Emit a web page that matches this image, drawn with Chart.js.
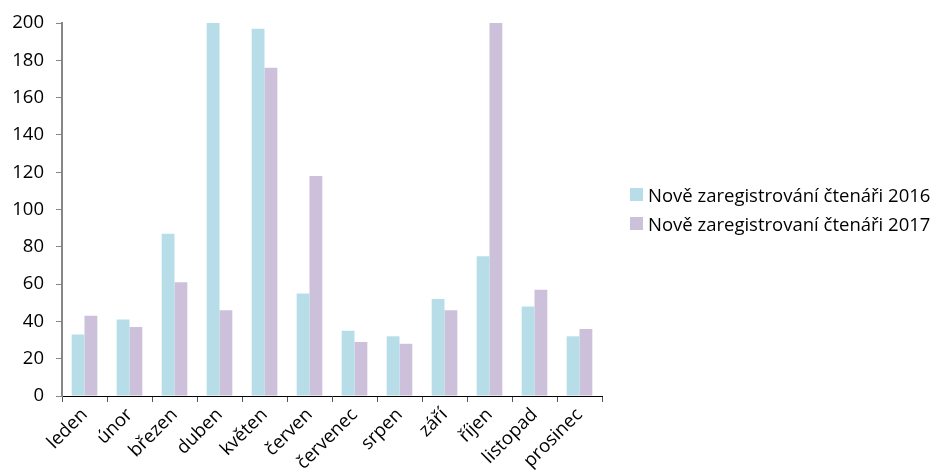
<!DOCTYPE html>
<html><head><meta charset="utf-8">
<script src="https://cdn.jsdelivr.net/npm/chart.js@4.4.0/dist/chart.umd.min.js"></script>
<style>
html,body{margin:0;padding:0;background:#fff}
#wrap{position:relative;width:933px;height:475px}
#legend{position:absolute;left:630px;top:180px;font-family:'Open Sans',sans-serif;font-size:18.5px;color:#000;line-height:29px}
#legend div{white-space:nowrap;display:flex;align-items:center}
#legend span.b{display:inline-block;width:13px;height:13px;margin-right:5px}
</style>
</head><body><div id="wrap"><canvas id="c"></canvas><div id="legend"></div></div>
<script>
const categories = ["leden","únor","březen","duben","květen","červen","červenec","srpen","září","říjen","listopad","prosinec"];
const series2016 = [33,41,87,200,197,55,35,32,52,75,48,32];
const series2017 = [43,37,61,46,176,118,29,28,46,200,57,36];
const seriesNames = ["Nově zaregistrování čtenáři 2016","Nově zaregistrovaní čtenáři 2017"];
const seriesColors = ['#b7dde8','#ccc0da'];
const yTicks = {min:0,max:200,step:20};

Chart.defaults.font.family = "'Open Sans', sans-serif";
Chart.defaults.font.size = 18.5;
Chart.defaults.color = "#000";
const chart = new Chart(document.getElementById('c'), {
  type:'bar',
  data:{labels:categories,datasets:[
    {label:seriesNames[0],data:series2016,backgroundColor:seriesColors[0],barPercentage:1,categoryPercentage:0.57},
    {label:seriesNames[1],data:series2017,backgroundColor:seriesColors[1],barPercentage:1,categoryPercentage:0.57}
  ]},
  options:{
    responsive:true,maintainAspectRatio:false,animation:false,
    layout:{padding:{top:23,left:0,right:331,bottom:0}},
    plugins:{legend:{display:false},tooltip:{enabled:false}},
    scales:{
      x:{grid:{display:true,drawOnChartArea:false,drawTicks:true,tickLength:6,color:'#555',offset:true},
         border:{color:'#000'},
         afterFit:(s)=>{s.height=79;},
         ticks:{maxRotation:45,minRotation:45,padding:2,font:{size:18.5}}},
      y:{min:yTicks.min,max:yTicks.max,
         grid:{display:true,drawOnChartArea:false,drawTicks:true,tickLength:6,color:'#868686'},
         border:{color:'#868686',width:2},
         afterFit:(s)=>{s.width=62;},
         ticks:{stepSize:yTicks.step,padding:12,font:{size:18.5}}}
    }
  }
});
const lg=document.getElementById('legend');
seriesNames.forEach((n,i)=>{const d=document.createElement('div');const b=document.createElement('span');b.className='b';b.style.background=seriesColors[i];d.appendChild(b);d.appendChild(document.createTextNode(n));lg.appendChild(d);});
</script></body></html>
